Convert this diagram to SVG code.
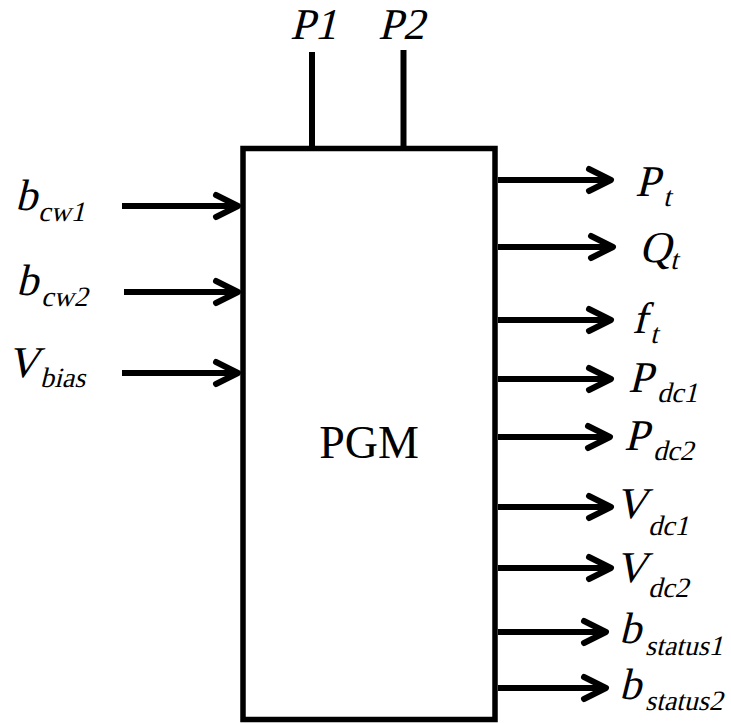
<svg xmlns="http://www.w3.org/2000/svg" width="731" height="723" viewBox="0 0 731 723">
<style>
.t{font-family:"Liberation Serif","Times New Roman",serif;font-size:44px;fill:#000}
.s{font-size:28px}
.box{fill:#fff;stroke:#000;stroke-width:5.5}
.ln{stroke:#000;stroke-width:6;fill:none}
.ar{stroke:#000;stroke-width:6;fill:none;marker-end:url(#ah)}
.pgm{font-family:"Liberation Serif","Times New Roman",serif;font-size:46px;fill:#000}
</style>
<defs>
<marker id="ah" markerUnits="userSpaceOnUse" viewBox="-30 -20 40 40" markerWidth="40" markerHeight="40" refX="0" refY="0" orient="auto" overflow="visible">
<path d="M-22,-11 L0,0 L-22,11" fill="none" stroke="#000" stroke-width="6" stroke-linecap="round" stroke-linejoin="round"/>
</marker>
</defs>
<g id="connectors">
<line class="ln" x1="312" y1="52" x2="312" y2="148"/>
<line class="ln" x1="403.5" y1="50" x2="403.5" y2="148"/>
<line class="ar" x1="122" y1="206" x2="238" y2="206"/>
<line class="ar" x1="124" y1="292" x2="238" y2="292"/>
<line class="ar" x1="122" y1="373" x2="238" y2="373"/>
<line class="ar" x1="498" y1="180" x2="611" y2="180"/>
<line class="ar" x1="498" y1="247" x2="613" y2="247"/>
<line class="ar" x1="498" y1="320" x2="611" y2="320"/>
<line class="ar" x1="498" y1="379" x2="611" y2="379"/>
<line class="ar" x1="498" y1="437" x2="610" y2="437"/>
<line class="ar" x1="498" y1="507" x2="611" y2="507"/>
<line class="ar" x1="498" y1="568" x2="611" y2="568"/>
<line class="ar" x1="498" y1="632" x2="606" y2="632"/>
<line class="ar" x1="498" y1="688" x2="606" y2="688"/>
</g>
<g id="pgm">
<rect class="box" x="243" y="148.5" width="252" height="571"/>
<text class="pgm" x="369" y="458" text-anchor="middle">PGM</text>
</g>
<g id="label-p1"><text class="t" transform="translate(290 39) skewX(-14)">P1</text></g>
<g id="label-p2"><text class="t" transform="translate(378 39) skewX(-14)">P2</text></g>
<g id="label-bcw1"><text class="t" transform="translate(15 210) skewX(-14)">b</text><text class="t s" transform="translate(38 221) skewX(-14)">cw1</text></g>
<g id="label-bcw2"><text class="t" transform="translate(16 295) skewX(-14)">b</text><text class="t s" transform="translate(41 306) skewX(-14)">cw2</text></g>
<g id="label-vbias"><text class="t" transform="translate(7 377) skewX(-14)">V</text><text class="t s" transform="translate(40 387) skewX(-14)">bias</text></g>
<g id="label-pt"><text class="t" transform="translate(635 196) skewX(-14)">P</text><text class="t s" transform="translate(663 206) skewX(-14)">t</text></g>
<g id="label-qt"><text class="t" transform="translate(639 262) skewX(-14)">Q</text><text class="t s" transform="translate(670 269) skewX(-14)">t</text></g>
<g id="label-ft"><text class="t" transform="translate(632 333) skewX(-14)">f</text><text class="t s" transform="translate(650 343) skewX(-14)">t</text></g>
<g id="label-pdc1"><text class="t" transform="translate(628 392) skewX(-14)">P</text><text class="t s" transform="translate(657 402) skewX(-14)">dc1</text></g>
<g id="label-pdc2"><text class="t" transform="translate(624 450) skewX(-14)">P</text><text class="t s" transform="translate(653 460) skewX(-14)">dc2</text></g>
<g id="label-vdc1"><text class="t" transform="translate(615 518) skewX(-14)">V</text><text class="t s" transform="translate(648 535) skewX(-14)">dc1</text></g>
<g id="label-vdc2"><text class="t" transform="translate(615 582) skewX(-14)">V</text><text class="t s" transform="translate(648 597) skewX(-14)">dc2</text></g>
<g id="label-bstatus1"><text class="t" transform="translate(619 643) skewX(-14)">b</text><text class="t s" transform="translate(645 655) skewX(-14)">status1</text></g>
<g id="label-bstatus2"><text class="t" transform="translate(619 699) skewX(-14)">b</text><text class="t s" transform="translate(645 710) skewX(-14)">status2</text></g>
</svg>
